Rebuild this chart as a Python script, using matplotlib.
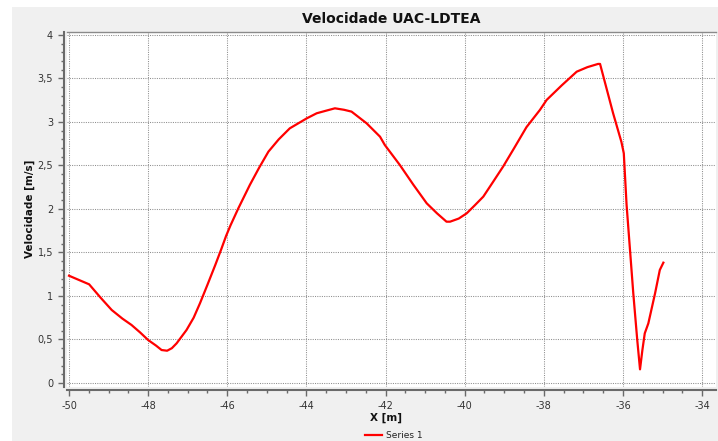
import matplotlib
matplotlib.use("Agg")
import matplotlib.pyplot as plt
from matplotlib.patches import Rectangle
from matplotlib.lines import Line2D
from matplotlib.ticker import MultipleLocator, FuncFormatter

# Velocity profile along X
x_m = [-50.0, -49.49, -49.2, -48.92, -48.65, -48.42, -48.2, -48.0, -47.8, -47.66,
       -47.52, -47.4, -47.28, -47.03, -46.85, -46.69, -46.5, -46.3, -46.15, -46.03,
       -45.92, -45.72, -45.43, -45.2, -44.96, -44.7, -44.42, -43.99, -43.74, -43.5,
       -43.28, -43.05, -42.86, -42.48, -42.14, -42.02, -41.64, -41.3, -40.96, -40.7,
       -40.46, -40.37, -40.15, -39.95, -39.75, -39.53, -39.3, -39.03, -38.75, -38.44,
       -38.1, -37.93, -37.55, -37.17, -36.9, -36.63, -36.58, -36.25, -36.04, -35.98,
       -35.91, -35.83, -35.74, -35.64, -35.57, -35.51, -35.45, -35.36, -35.19, -35.07,
       -34.98]
v_ms = [1.233, 1.134, 0.98, 0.839, 0.74, 0.667, 0.58, 0.494, 0.43, 0.379,
        0.371, 0.4, 0.456, 0.609, 0.75, 0.916, 1.13, 1.36, 1.54, 1.69,
        1.81, 2.008, 2.276, 2.47, 2.659, 2.8, 2.927, 3.042, 3.1, 3.13,
        3.157, 3.14, 3.119, 2.985, 2.831, 2.736, 2.506, 2.28, 2.065, 1.95,
        1.854, 1.854, 1.89, 1.95, 2.04, 2.142, 2.3, 2.487, 2.7, 2.94,
        3.138, 3.253, 3.42, 3.578, 3.63, 3.667, 3.667, 3.1, 2.77, 2.64,
        2.05, 1.57, 1.03, 0.494, 0.157, 0.379, 0.571, 0.685, 1.03, 1.299,
        1.383]

title = "Velocidade UAC-LDTEA"
x_label = "X [m]"
y_label = "Velocidade [m/s]"
series_name = "Series 1"

W, H = 718, 441
fig = plt.figure(figsize=(W / 100, H / 100), dpi=100)
fig.patch.set_facecolor("white")


def fx(px):
    return px / W


def fy(py):
    return 1 - py / H


# grey chart background panel, kept behind the axes
panel = Rectangle((fx(12), 0), 1 - fx(12), fy(7), transform=fig.transFigure,
                  facecolor="#f0f0f0", edgecolor="none")
panel.set_zorder(-10)
fig.add_artist(panel)

ax = fig.add_axes([fx(67), fy(387), fx(716) - fx(67), fy(32) - fy(387)])
ax.set_zorder(1)
ax.set_facecolor("white")
ax.plot(x_m, v_ms, color="#ff0000", linewidth=1.6, zorder=3)

ax.set_xlim(-50.05, -33.65)
ax.set_ylim(-0.046, 4.034)

ax.xaxis.set_major_locator(MultipleLocator(2))
ax.xaxis.set_minor_locator(MultipleLocator(0.5))
ax.yaxis.set_major_locator(MultipleLocator(0.5))
ax.yaxis.set_minor_locator(MultipleLocator(0.1))


def comma_fmt(v, pos):
    s = f"{v:g}"
    if s == "-0":
        s = "0"
    return s.replace(".", ",")


ax.xaxis.set_major_formatter(FuncFormatter(comma_fmt))
ax.yaxis.set_major_formatter(FuncFormatter(comma_fmt))

ax.grid(True, which="major", color="#8e8e8e", linestyle=(0, (1, 1.2)), linewidth=0.75, zorder=1)

ax.spines["right"].set_visible(False)
ax.spines["top"].set_color("#8a8a8a")
ax.spines["top"].set_linewidth(1.0)
for side in ("left", "bottom"):
    ax.spines[side].set_position(("outward", 2.5))
    ax.spines[side].set_color("#6a6a6a")
    ax.spines[side].set_linewidth(1.5)

ax.tick_params(which="major", direction="out", length=4.5, width=1.0, color="#6a6a6a",
               labelsize=7, labelcolor="#333333", pad=3)
ax.tick_params(which="minor", direction="out", length=2.5, width=1.0, color="#6a6a6a")

fig.text(fx(391), fy(19), title, ha="center", va="center", fontsize=10,
         fontweight="bold", color="#111111")
fig.text(fx(386), fy(418), x_label, ha="center", va="center", fontsize=7.5,
         fontweight="bold", color="#111111")
fig.text(fx(30), fy(209), y_label, ha="center", va="center", rotation=90,
         fontsize=7.5, fontweight="bold", color="#111111")

# legend entry
fig.add_artist(Line2D([fx(365), fx(382)], [fy(435), fy(435)], transform=fig.transFigure,
                      color="#ff0000", linewidth=1.6))
fig.text(fx(386), fy(435), series_name, ha="left", va="center", fontsize=6.5,
         color="#222222")

fig.savefig("out.png", dpi=100)
